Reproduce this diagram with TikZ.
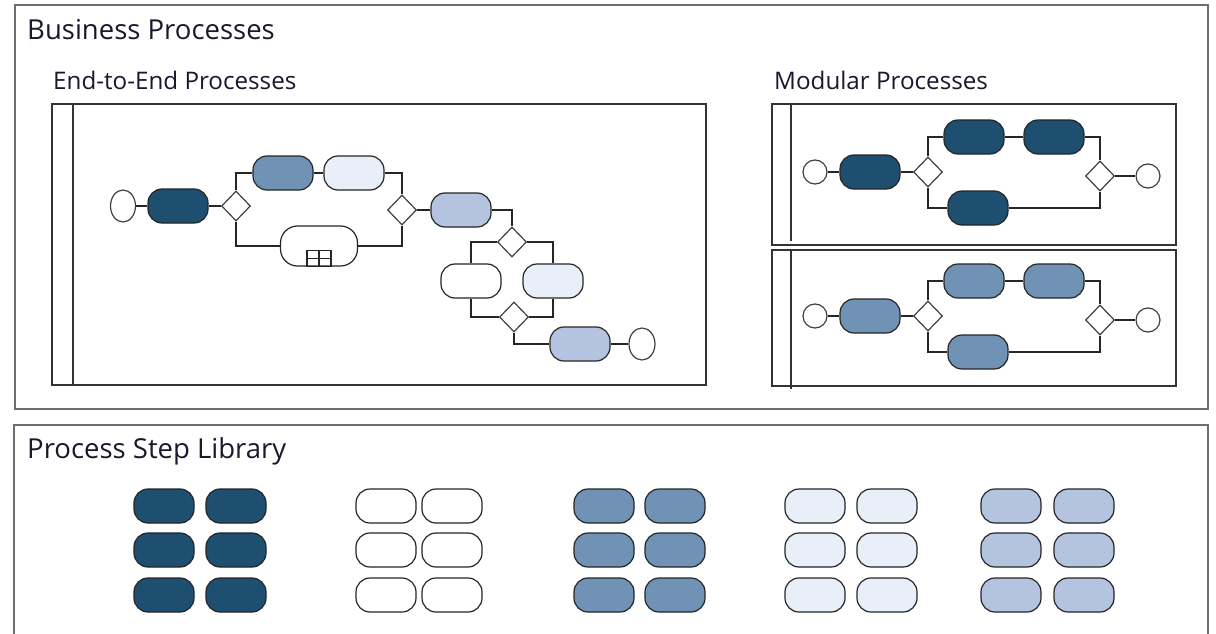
\documentclass[tikz,border=0pt]{standalone}
\usepackage{fontspec}
\setmainfont{Open Sans}
\usetikzlibrary{shapes.geometric,calc}
\definecolor{cdark}{RGB}{30,79,112}
\definecolor{cmid}{RGB}{112,146,180}
\definecolor{clight}{RGB}{232,239,249}
\definecolor{cpale}{RGB}{180,196,224}
\definecolor{ctext}{RGB}{25,25,45}
\definecolor{cframe}{RGB}{110,110,110}
\begin{document}
\begin{tikzpicture}[x=1pt,y=-1pt,
 pill/.style={draw=black!85, line width=1.2pt, rounded corners=14pt, minimum width=60pt, minimum height=34pt, inner sep=0pt},
 gw/.style={diamond, draw=black!75, fill=white, line width=1.2pt, minimum width=29pt, minimum height=30pt, inner sep=0pt},
 ev/.style={ellipse, draw=black!75, fill=white, line width=1.2pt, minimum width=24pt, minimum height=24pt, inner sep=0pt},
 flow/.style={draw=black!85, line width=1.2pt},
 frame/.style={draw=cframe, line width=1.8pt},
 lane/.style={draw=black!80, line width=1.6pt},
 title/.style={anchor=base west, inner sep=0pt, text=ctext, font=\fontsize{27.5}{32}\selectfont},
 subtitle/.style={anchor=base west, inner sep=0pt, text=ctext, font=\fontsize{24.2}{28}\selectfont},
]
\useasboundingbox (0,0) rectangle (1216,634);
\fill[white] (0,0) rectangle (1216,634);

% frames
\draw[frame] (15,5) rectangle (1208,409);
\draw[frame] (14,640) -- (14,425) -- (1208,425) -- (1208,640);

\node[title] (t1) at (27,40) {Business Processes};
\node[subtitle] (t2) at (53,89) {End-to-End Processes};
\node[subtitle] (t3) at (774,89) {Modular Processes};
\node[title] (t4) at (27,458) {Process Step Library};

% pools
\draw[lane] (52,104) rectangle (706,385);
\draw[lane] (73,104) -- (73,385);
\draw[lane] (772,104) rectangle (1176,245);
\draw[lane] (791,104) -- (791,241);
\draw[lane] (772,250) rectangle (1176,386);
\draw[lane] (791,250) -- (791,389);

% end-to-end process
\node[ev, minimum width=25pt, minimum height=32pt] (es) at (123,206) {};
\node[pill, fill=cdark] (a1) at (178,206) {};
\node[gw] (ag1) at (236,206) {};
\node[pill, fill=cmid] (a2) at (283,173) {};
\node[pill, fill=clight] (a3) at (354,173) {};
\node[pill, fill=white, minimum width=77pt, minimum height=40pt, rounded corners=17pt] (asub) at (319,246) {};
\node[gw] (ag2) at (402,210) {};
\node[pill, fill=cpale] (a4) at (461,210) {};
\node[gw] (ag3) at (512,242) {};
\node[pill, fill=white] (a5) at (471,281) {};
\node[pill, fill=clight] (a6) at (553,281) {};
\node[gw] (ag4) at (514,317) {};
\node[pill, fill=cpale] (a7) at (580,344) {};
\node[ev, minimum width=26pt, minimum height=32pt] (ee) at (642,344) {};

\draw[flow] (es) -- (a1);
\draw[flow] (a1) -- (ag1);
\draw[flow] (ag1.north) |- (a2.west);
\draw[flow] (a2) -- (a3);
\draw[flow] (a3.east) -| (ag2.north);
\draw[flow] (ag1.south) |- (asub.west);
\draw[flow] (asub.east) -| (ag2.south);
\draw[flow] (ag2) -- (a4);
\draw[flow] (a4.east) -| (ag3.north);
\draw[flow] (ag3.west) -| (a5.north);
\draw[flow] (ag3.east) -| (a6.north);
\draw[flow] (a5.south) |- (ag4.west);
\draw[flow] (a6.south) |- (ag4.east);
\draw[flow] (ag4.south) |- (a7.west);
\draw[flow] (a7) -- (ee);
% sub-process marker
\draw[flow] ($(asub.south)+(-12,0)$) rectangle ($(asub.south)+(12,-16)$);
\draw[flow] (asub.south) -- ($(asub.south)+(0,-16)$);
\draw[flow] ($(asub.south)+(-12,-8)$) -- ($(asub.south)+(12,-8)$);

% modular processes
\foreach \p/\dy/\c in {u/0/cdark, l/144/cmid}{
  \node[ev] (ms\p) at (815,172+\dy) {};
  \node[pill, fill=\c] (m1\p) at (870,172+\dy) {};
  \node[gw] (mg1\p) at (928,172+\dy) {};
  \node[pill, fill=\c] (m2\p) at (974,137+\dy) {};
  \node[pill, fill=\c] (m3\p) at (1054,137+\dy) {};
  \node[pill, fill=\c] (m4\p) at (978,208+\dy) {};
  \node[gw] (mg2\p) at (1100,176+\dy) {};
  \node[ev] (me\p) at (1148,176+\dy) {};
  \draw[flow] (ms\p) -- (m1\p);
  \draw[flow] (m1\p) -- (mg1\p);
  \draw[flow] (mg1\p.north) |- (m2\p.west);
  \draw[flow] (m2\p) -- (m3\p);
  \draw[flow] (m3\p.east) -| (mg2\p.north);
  \draw[flow] (mg1\p.south) |- (m4\p.west);
  \draw[flow] (m4\p.east) -| (mg2\p.south);
  \draw[flow] (mg2\p) -- (me\p);
}

% process step library
\foreach \g/\xa/\xb/\c in {1/164/236/cdark, 2/386/452/white, 3/604/675/cmid, 4/815/887/clight, 5/1011/1084/cpale}{
  \foreach \r/\y in {1/506, 2/550, 3/595}{
    \node[pill, fill=\c] (lib\g a\r) at (\xa,\y) {};
    \node[pill, fill=\c] (lib\g b\r) at (\xb,\y) {};
  }
}
\end{tikzpicture}
\end{document}
